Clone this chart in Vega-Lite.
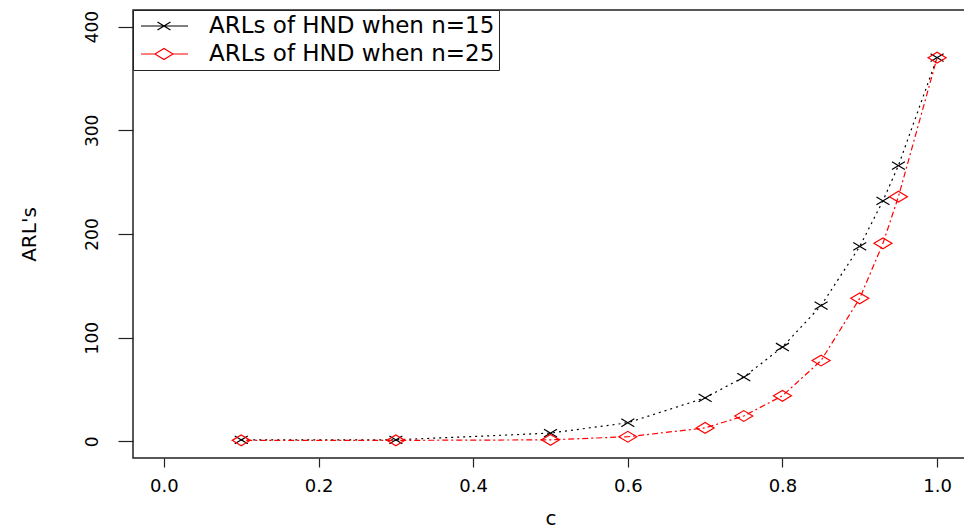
{
  "$schema": "https://vega.github.io/schema/vega-lite/v6.json",
  "width": 835,
  "height": 448,
  "autosize": {"type": "none"},
  "padding": {"left": 133, "top": 10, "right": 0, "bottom": 72},
  "background": "white",
  "config": {"view": {"stroke": "#222222", "strokeWidth": 1.5}, "font": "DejaVu Sans"},
  "data": {"values": [
    {"c": 0.1, "arl": 1.5, "series": "ARLs of HND when n=15"},
    {"c": 0.3, "arl": 1.5, "series": "ARLs of HND when n=15"},
    {"c": 0.5, "arl": 8, "series": "ARLs of HND when n=15"},
    {"c": 0.6, "arl": 18, "series": "ARLs of HND when n=15"},
    {"c": 0.7, "arl": 42, "series": "ARLs of HND when n=15"},
    {"c": 0.75, "arl": 62, "series": "ARLs of HND when n=15"},
    {"c": 0.8, "arl": 91, "series": "ARLs of HND when n=15"},
    {"c": 0.85, "arl": 131, "series": "ARLs of HND when n=15"},
    {"c": 0.9, "arl": 188, "series": "ARLs of HND when n=15"},
    {"c": 0.93, "arl": 232, "series": "ARLs of HND when n=15"},
    {"c": 0.95, "arl": 266, "series": "ARLs of HND when n=15"},
    {"c": 1.0, "arl": 370, "series": "ARLs of HND when n=15"},
    {"c": 0.1, "arl": 1, "series": "ARLs of HND when n=25"},
    {"c": 0.3, "arl": 1, "series": "ARLs of HND when n=25"},
    {"c": 0.5, "arl": 1.5, "series": "ARLs of HND when n=25"},
    {"c": 0.6, "arl": 4.5, "series": "ARLs of HND when n=25"},
    {"c": 0.7, "arl": 13, "series": "ARLs of HND when n=25"},
    {"c": 0.75, "arl": 24.5, "series": "ARLs of HND when n=25"},
    {"c": 0.8, "arl": 44, "series": "ARLs of HND when n=25"},
    {"c": 0.85, "arl": 78, "series": "ARLs of HND when n=25"},
    {"c": 0.9, "arl": 138, "series": "ARLs of HND when n=25"},
    {"c": 0.93, "arl": 191, "series": "ARLs of HND when n=25"},
    {"c": 0.95, "arl": 236, "series": "ARLs of HND when n=25"},
    {"c": 1.0, "arl": 370, "series": "ARLs of HND when n=25"}
  ]},
  "encoding": {
    "x": {
      "field": "c", "type": "quantitative",
      "scale": {"domain": [-0.04, 1.04], "nice": false, "zero": false},
      "axis": {
        "values": [0, 0.2, 0.4, 0.6, 0.8, 1.0], "format": ".1f", "title": "c",
        "grid": false, "domain": false, "tickSize": 9, "tickColor": "#222222", "tickWidth": 1.2,
        "labelFontSize": 18, "labelColor": "black", "labelPadding": 10, "labelFlush": false,
        "titleFontSize": 20, "titleFontWeight": "normal", "titleColor": "black",
        "titleY": 70, "titleBaseline": "bottom"
      }
    },
    "y": {
      "field": "arl", "type": "quantitative",
      "scale": {"domain": [-16, 416], "nice": false, "zero": false},
      "axis": {
        "values": [0, 100, 200, 300, 400], "title": "ARL's",
        "grid": false, "domain": false, "tickSize": 15, "tickColor": "#222222", "tickWidth": 1.2,
        "labelAngle": 270, "labelAlign": "center", "labelBaseline": "alphabetic", "labelPadding": 21,
        "labelFontSize": 17, "labelColor": "black",
        "titleAngle": 270, "titleX": -98, "titleBaseline": "alphabetic",
        "titleFontSize": 20, "titleFontWeight": "normal", "titleColor": "black"
      }
    }
  },
  "layer": [
    {
      "transform": [{"filter": "datum.series === 'ARLs of HND when n=15'"}],
      "mark": {"type": "line", "color": "black", "strokeWidth": 1.2, "strokeDash": [2, 4]}
    },
    {
      "transform": [{"filter": "datum.series === 'ARLs of HND when n=25'"}],
      "mark": {"type": "line", "color": "#FF0000", "strokeWidth": 1.2, "strokeDash": [2, 3, 6, 3]}
    },
    {
      "transform": [{"filter": "datum.series === 'ARLs of HND when n=15'"}],
      "mark": {"type": "point", "filled": false, "color": "black", "strokeWidth": 1.2, "opacity": 1, "size": 169, "shape": "M-1,-0.6L1,0.6M-1,0.6L1,-0.6"}
    },
    {
      "transform": [{"filter": "datum.series === 'ARLs of HND when n=25'"}],
      "mark": {"type": "point", "filled": false, "color": "#FF0000", "strokeWidth": 1.2, "opacity": 1, "size": 324, "shape": "M-1,0L0,-0.6L1,0L0,0.6Z"}
    },
    {
      "mark": {"type": "point", "filled": false, "opacity": 0},
      "encoding": {
        "color": {
          "field": "series", "type": "nominal",
          "scale": {"domain": ["ARLs of HND when n=15", "ARLs of HND when n=25"], "range": ["black", "#FF0000"]},
          "legend": {
            "title": null, "orient": "none", "legendX": 0, "legendY": 0,
            "padding": 4, "rowPadding": 4, "strokeColor": "#222222", "fillColor": "white",
            "symbolSize": 484, "symbolStrokeWidth": 1.2, "symbolOpacity": 1,
            "labelFontSize": 23, "labelColor": "black", "labelOffset": 48, "labelLimit": 500
          }
        },
        "shape": {
          "field": "series", "type": "nominal",
          "scale": {"domain": ["ARLs of HND when n=15", "ARLs of HND when n=25"], "range": [
            "M-0.73,0H3.55M0.77,-0.36L1.95,0.36M0.77,0.36L1.95,-0.36",
            "M-0.73,0H0.54M2.18,0H3.55M0.54,0L1.36,-0.5L2.18,0L1.36,0.5Z"
          ]},
          "legend": {
            "title": null, "orient": "none", "legendX": 0, "legendY": 0,
            "padding": 4, "rowPadding": 4, "strokeColor": "#222222", "fillColor": "white",
            "symbolSize": 484, "symbolStrokeWidth": 1.2, "symbolOpacity": 1,
            "labelFontSize": 23, "labelColor": "black", "labelOffset": 48, "labelLimit": 500
          }
        }
      }
    }
  ]
}
